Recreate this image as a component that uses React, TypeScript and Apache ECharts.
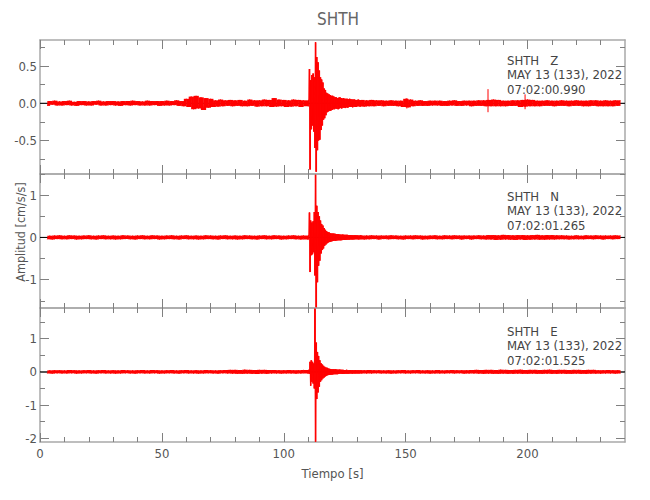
import React, { useEffect, useRef } from "react";
import * as echarts from "echarts";

// ---------------- data ----------------
const stationName = "SHTH";
const dateLabel = "MAY 13 (133), 2022";
const componentNames = ["Z", "N", "E"];
const startTimes = ["07:02:00.990", "07:02:01.265", "07:02:01.525"];

const xMin = 0;
const xMax = 240;
const xMajorTicks = [0, 50, 100, 150, 200];
const xMinorTicks = [10, 20, 30, 40, 60, 70, 80, 90, 110, 120, 130, 140, 160, 170, 180, 190, 210, 220, 230];

const yMins = [-0.95, -1.67, -2.11];
const yMaxs = [0.85, 1.5, 1.92];
const yMajorTicks = [[-0.5, 0, 0.5], [-1, 0, 1], [-2, -1, 0, 1]];
const yMinorTicks = [[-0.75, -0.25, 0.25, 0.75], [-1.5, -0.5, 0.5, 1.5], [-1.5, -0.5, 0.5, 1.5]];

// sampling of the traces (seconds)
const PRE_START = 3;
const EVENT_START = 110;
const POST_START = 133;
const NOISE_STEP = 1;
const EVENT_STEP = 0.25;

// Z component
const zPre = [
  -0.035, 0.03, -0.02, 0.035, -0.03, 0.025, -0.03,
  0.03, -0.025, 0.035, -0.03, 0.02, -0.035, 0.03, -0.025, 0.03, -0.03,
  0.025, -0.03, 0.03, -0.02, 0.035, -0.03, 0.025, -0.03, 0.03, -0.025,
  0.03, -0.03, 0.025, -0.035, 0.03, -0.025, 0.03, -0.03, 0.035, -0.025,
  0.03, -0.03, 0.025, -0.03, 0.035, -0.03, 0.03, -0.025, 0.03, -0.035,
  0.03, -0.03, 0.035, -0.03, 0.03, -0.025, 0.04, -0.035, 0.03, -0.04,
  0.06, -0.05, 0.09, -0.08, 0.1, -0.07, 0.08, -0.09, 0.07, -0.06,
  0.06, -0.05, 0.04, -0.045, 0.05, -0.04, 0.04, -0.035, 0.045, -0.04,
  0.04, -0.035, 0.045, -0.04, 0.035, -0.04, 0.05, -0.035, 0.04, -0.045,
  0.04, -0.04, 0.05, -0.04, 0.045, -0.05, 0.07, -0.045, 0.05, -0.04,
  0.045, -0.05, 0.04, -0.045, 0.05, -0.04, 0.045, -0.05, 0.04,
];
const zEvent = [
  -0.04, 0.05, 0.46, -0.89,
  0.31, -0.35, 0.38, -0.3,
  0.4, -0.38, 0.35, -0.6,
  0.82, -0.92, 0.62, -0.63,
  0.55, -0.5, 0.44, -0.49,
  0.35, -0.36, 0.32, -0.3,
  0.28, -0.22, 0.2, -0.2,
  0.18, -0.16, 0.14, -0.12,
  0.13, -0.11, 0.12, -0.1,
  0.11, -0.1, 0.1, -0.09,
  0.1, -0.08, 0.09, -0.08,
  0.08, -0.07, 0.08, -0.075,
  0.07, -0.08, 0.075, -0.07,
  0.08, -0.065, 0.07, -0.07,
  0.065, -0.06, 0.07, -0.06,
  0.06, -0.065, 0.06, -0.055,
  0.06, -0.06, 0.055, -0.05,
  0.06, -0.05, 0.055, -0.05,
  0.05, -0.055, 0.05, -0.045,
  0.05, -0.05, 0.045, -0.05,
  0.045, -0.04, 0.05, -0.04,
  0.045, -0.045, 0.04, -0.04,
  0.045,
];
const zPost = [
  -0.045, 0.04, -0.04, 0.045, -0.04, 0.04, -0.035, 0.04, -0.04, 0.035,
  -0.035, 0.04, -0.035, 0.035, -0.04, 0.035, -0.05, 0.06, -0.055, 0.05,
  -0.04, 0.035, -0.035, 0.04, -0.035, 0.03, -0.035, 0.035, -0.03, 0.035,
  -0.03, 0.035, -0.035, 0.03, -0.035, 0.035, -0.03, 0.04, -0.035, 0.03,
  -0.035, 0.035, -0.03, 0.035, -0.04, 0.035, -0.035, 0.04, -0.035, 0.04,
  -0.04, 0.045, -0.04, 0.05, -0.04, 0.045, -0.04, 0.035, -0.04, 0.035,
  -0.035, 0.04, -0.035, 0.04, -0.05, 0.045, -0.045, 0.05, -0.04, 0.045,
  -0.04, 0.035, -0.04, 0.035, -0.035, 0.04, -0.035, 0.035, -0.04, 0.035,
  -0.035, 0.04, -0.035, 0.035, -0.04, 0.035, -0.035, 0.04, -0.035, 0.035,
  -0.04, 0.035, -0.04, 0.04, -0.035, 0.04, -0.04, 0.035, -0.04, 0.04,
  -0.04, 0.035, -0.04, 0.04, -0.035, 0.04,
];
// isolated spikes: [time, low, high]
const zSpikes = [[183.8, -0.12, 0.19], [199, -0.08, 0.12], [150.5, -0.07, 0.07]];

// N component
const nPre = [
  -0.045, 0.04, -0.05, 0.045, -0.04, 0.05, -0.045,
  0.04, -0.045, 0.05, -0.04, 0.045, -0.05, 0.04, -0.045, 0.045, -0.04,
  0.05, -0.045, 0.04, -0.05, 0.045, -0.04, 0.05, -0.045, 0.04, -0.045,
  0.045, -0.05, 0.04, -0.045, 0.05, -0.04, 0.045, -0.045, 0.04, -0.05,
  0.045, -0.04, 0.05, -0.045, 0.04, -0.045, 0.05, -0.04, 0.045, -0.05,
  0.04, -0.045, 0.045, -0.04, 0.05, -0.045, 0.04, -0.05, 0.045, -0.04,
  0.05, -0.045, 0.04, -0.045, 0.045, -0.05, 0.04, -0.045, 0.05, -0.04,
  0.045, -0.045, 0.04, -0.05, 0.045, -0.04, 0.05, -0.045, 0.04, -0.045,
  0.045, -0.05, 0.04, -0.045, 0.05, -0.04, 0.045, -0.045, 0.04, -0.05,
  0.045, -0.04, 0.05, -0.045, 0.04, -0.045, 0.05, -0.04, 0.045, -0.05,
  0.04, -0.045, 0.045, -0.04, 0.05, -0.045, 0.04, -0.05, 0.045,
];
const nEvent = [
  -0.05, 0.06, 0.59, -0.82,
  0.4, -0.42, 0.35, -0.4,
  0.38, -0.35, 0.6, -0.9,
  1.48, -1.65, 0.75, -1.06,
  0.6, -0.67, 0.5, -0.55,
  0.4, -0.38, 0.32, -0.3,
  0.28, -0.26, 0.22, -0.2,
  0.18, -0.17, 0.15, -0.14,
  0.13, -0.12, 0.12, -0.11,
  0.1, -0.1, 0.095, -0.09,
  0.09, -0.085, 0.09, -0.08,
  0.085, -0.08, 0.08, -0.075,
  0.08, -0.07, 0.075, -0.07,
  0.07, -0.07, 0.065, -0.065,
  0.07, -0.06, 0.065, -0.06,
  0.06, -0.06, 0.06, -0.055,
  0.06, -0.055, 0.055, -0.055,
  0.055, -0.05, 0.055, -0.05,
  0.05, -0.05, 0.05, -0.05,
  0.05, -0.045, 0.05, -0.045,
  0.05, -0.045, 0.045, -0.05,
  0.045, -0.045, 0.05, -0.045,
  0.045,
];
const nPost = [
  -0.05, 0.045, -0.045, 0.05, -0.04, 0.045, -0.05, 0.045, -0.04, 0.045,
  -0.045, 0.05, -0.04, 0.045, -0.045, 0.04, -0.05, 0.045, -0.04, 0.045,
  -0.045, 0.05, -0.04, 0.045, -0.05, 0.04, -0.045, 0.045, -0.04, 0.05,
  -0.045, 0.04, -0.045, 0.05, -0.04, 0.045, -0.045, 0.05, -0.04, 0.045,
  -0.05, 0.045, -0.04, 0.045, -0.05, 0.045, -0.04, 0.05, -0.045, 0.045,
  -0.05, 0.055, -0.05, 0.055, -0.06, 0.05, -0.055, 0.06, -0.05, 0.055,
  -0.055, 0.05, -0.06, 0.055, -0.05, 0.055, -0.06, 0.05, -0.055, 0.055,
  -0.05, 0.06, -0.055, 0.05, -0.055, 0.055, -0.05, 0.055, -0.05, 0.05,
  -0.045, 0.05, -0.045, 0.045, -0.05, 0.04, -0.045, 0.05, -0.045, 0.04,
  -0.045, 0.05, -0.04, 0.045, -0.045, 0.05, -0.04, 0.045, -0.05, 0.045,
  -0.04, 0.045, -0.045, 0.05, -0.04, 0.045,
];
const nSpikes: number[][] = [];

// E component
const ePre = [
  -0.05, 0.045, -0.055, 0.05, -0.045, 0.05, -0.05,
  0.045, -0.05, 0.055, -0.045, 0.05, -0.055, 0.045, -0.05, 0.05, -0.045,
  0.055, -0.05, 0.045, -0.055, 0.05, -0.045, 0.055, -0.05, 0.045, -0.05,
  0.05, -0.055, 0.045, -0.05, 0.055, -0.045, 0.05, -0.05, 0.045, -0.055,
  0.05, -0.045, 0.055, -0.05, 0.045, -0.05, 0.055, -0.045, 0.05, -0.055,
  0.045, -0.05, 0.05, -0.045, 0.055, -0.05, 0.045, -0.055, 0.05, -0.045,
  0.055, -0.05, 0.045, -0.05, 0.05, -0.055, 0.045, -0.05, 0.055, -0.045,
  0.05, -0.05, 0.045, -0.055, 0.05, -0.045, 0.055, -0.05, 0.06, -0.055,
  0.06, -0.06, 0.055, -0.06, 0.065, -0.055, 0.06, -0.06, 0.055, -0.065,
  0.06, -0.055, 0.06, -0.06, 0.055, -0.05, 0.055, -0.05, 0.05, -0.055,
  0.05, -0.05, 0.055, -0.05, 0.05, -0.055, 0.05, -0.05, 0.055,
];
const eEvent = [
  -0.05, 0.06, -0.06, 0.3,
  -0.42, 0.35, -0.3, 0.3,
  -0.35, 0.25, -0.5, 1.9,
  -2.1, 0.88, -0.82, 0.6,
  -0.62, 0.48, -0.45, 0.35,
  -0.3, 0.26, -0.25, 0.22,
  -0.2, 0.18, -0.17, 0.15,
  -0.14, 0.13, -0.12, 0.12,
  -0.1, 0.1, -0.095, 0.09,
  -0.09, 0.085, -0.085, 0.08,
  -0.08, 0.08, -0.075, 0.075,
  -0.07, 0.075, -0.07, 0.07,
  -0.07, 0.065, -0.065, 0.07,
  -0.06, 0.065, -0.06, 0.06,
  -0.065, 0.06, -0.06, 0.055,
  -0.06, 0.055, -0.055, 0.06,
  -0.055, 0.05, -0.055, 0.055,
  -0.05, 0.055, -0.05, 0.05,
  -0.055, 0.05, -0.05, 0.05,
  -0.05, 0.055, -0.05, 0.05,
  -0.05, 0.045, -0.05, 0.05,
  -0.05, 0.05, -0.045, 0.05,
  -0.05,
];
const ePost = [
  0.05, -0.05, 0.055, -0.05, 0.05, -0.045, 0.05, -0.05, 0.045, -0.05,
  0.05, -0.055, 0.045, -0.05, 0.05, -0.045, 0.055, -0.05, 0.045, -0.05,
  0.05, -0.045, 0.055, -0.05, 0.045, -0.05, 0.05, -0.055, 0.045, -0.05,
  0.055, -0.05, 0.045, -0.05, 0.05, -0.045, 0.055, -0.05, 0.05, -0.045,
  0.05, -0.055, 0.05, -0.05, 0.055, -0.05, 0.06, -0.055, 0.055, -0.06,
  0.06, -0.055, 0.06, -0.06, 0.055, -0.06, 0.065, -0.055, 0.06, -0.06,
  0.055, -0.06, 0.06, -0.055, 0.065, -0.06, 0.055, -0.06, 0.06, -0.055,
  0.06, -0.06, 0.055, -0.06, 0.06, -0.055, 0.065, -0.06, 0.055, -0.06,
  0.06, -0.055, 0.06, -0.06, 0.055, -0.06, 0.06, -0.055, 0.06, -0.06,
  0.055, -0.06, 0.06, -0.055, 0.06, -0.055, 0.05, -0.055, 0.05, -0.05,
  0.055, -0.05, 0.05, -0.055, 0.05, -0.05,
];
const eSpikes: number[][] = [];

// ---------------- styling ----------------
const FONT = "'DejaVu Sans Condensed', 'Liberation Sans Narrow', 'DejaVu Sans', sans-serif";
const TEXT_COLOR = "#555555";
const AXIS_GRAY = "#a9a9a9";
const TICK_GRAY = "#808080";
const TRACE_RED = "#ff0000";
const GRID_LEFT = 40;
const GRID_RIGHT = 25;
const GRID_TOPS = [40, 174, 308];
const GRID_HEIGHT = 134;
const ANNOT_X = 507;
const ANNOT_Y = [60, 196, 331];
const ANNOT_LINE = 14.5;

function buildTrace(pre: number[], ev: number[], post: number[]) {
  const d: number[][] = [];
  pre.forEach((v, i) => d.push([PRE_START + i * NOISE_STEP, v]));
  ev.forEach((v, i) => d.push([EVENT_START + i * EVENT_STEP, v]));
  post.forEach((v, i) => d.push([POST_START + i * NOISE_STEP, v]));
  return d;
}

// each column spans the range covered by the trace between two consecutive samples
function buildColumns(trace: number[][]) {
  const cols: number[][] = [];
  for (let i = 0; i < trace.length - 1; i++) {
    const [t0, v0] = trace[i];
    const [t1, v1] = trace[i + 1];
    cols.push([t0, t1, Math.min(v0, v1), Math.max(v0, v1)]);
  }
  return cols;
}

const traces = [
  buildTrace(zPre, zEvent, zPost),
  buildTrace(nPre, nEvent, nPost),
  buildTrace(ePre, eEvent, ePost),
];
const spikes = [zSpikes, nSpikes, eSpikes];

function renderColumn(params: any, api: any) {
  const a = api.coord([api.value(0), api.value(3)]);
  const b = api.coord([api.value(1), api.value(2)]);
  return {
    type: "rect",
    shape: {
      x: a[0],
      y: a[1],
      width: Math.max(b[0] - a[0], 0.5) + 0.4,
      height: Math.max(b[1] - a[1], 0.6),
    },
    style: { fill: TRACE_RED },
  };
}

function renderSpike(params: any, api: any) {
  const a = api.coord([api.value(0), api.value(2)]);
  const b = api.coord([api.value(0), api.value(1)]);
  return {
    type: "line",
    shape: { x1: a[0], y1: a[1], x2: b[0], y2: b[1] },
    style: { stroke: TRACE_RED, lineWidth: 1 },
  };
}

function buildOption() {
  const grid: any[] = [];
  const xAxis: any[] = [];
  const yAxis: any[] = [];
  const series: any[] = [];
  const graphic: any[] = [];

  for (let g = 0; g < 3; g++) {
    grid.push({ left: GRID_LEFT, right: GRID_RIGHT, top: GRID_TOPS[g], height: GRID_HEIGHT, containLabel: false });
    const isBottom = g === 2;
    const xBase = {
      gridIndex: g,
      type: "value",
      min: xMin,
      max: xMax,
      splitLine: { show: false },
      axisPointer: { show: false },
    };
    xAxis.push({
      ...xBase,
      position: "bottom",
      axisLine: { show: true, onZero: false, lineStyle: { color: AXIS_GRAY, width: 1.5 } },
      axisTick: { show: true, inside: true, length: 9, customValues: xMajorTicks, lineStyle: { color: TICK_GRAY, width: 1 } },
      axisLabel: {
        show: isBottom,
        customValues: xMajorTicks,
        color: TEXT_COLOR,
        fontSize: 13,
        fontFamily: FONT,
        margin: 5,
      },
      name: isBottom ? "Tiempo [s]" : "",
      nameLocation: "middle",
      nameGap: 25,
      nameTextStyle: { color: TEXT_COLOR, fontSize: 13, fontFamily: FONT },
    });
    xAxis.push({
      ...xBase,
      position: "bottom",
      axisLine: { show: false, onZero: false },
      axisTick: { show: true, inside: true, length: 5, customValues: xMinorTicks, lineStyle: { color: TICK_GRAY, width: 1 } },
      axisLabel: { show: false },
    });
    xAxis.push({
      ...xBase,
      position: "top",
      axisLine: { show: true, onZero: false, lineStyle: { color: AXIS_GRAY, width: 1.5 } },
      axisTick: { show: true, inside: true, length: 9, customValues: xMajorTicks, lineStyle: { color: TICK_GRAY, width: 1 } },
      axisLabel: { show: false },
    });
    xAxis.push({
      ...xBase,
      position: "top",
      axisLine: { show: false, onZero: false },
      axisTick: { show: true, inside: true, length: 5, customValues: xMinorTicks, lineStyle: { color: TICK_GRAY, width: 1 } },
      axisLabel: { show: false },
    });

    const yBase = {
      gridIndex: g,
      type: "value",
      min: yMins[g],
      max: yMaxs[g],
      splitLine: { show: false },
      axisPointer: { show: false },
    };
    const fmt = g === 0 ? (v: number) => v.toFixed(1) : (v: number) => String(Math.round(v));
    yAxis.push({
      ...yBase,
      position: "left",
      axisLine: { show: true, onZero: false, lineStyle: { color: AXIS_GRAY, width: 1.5 } },
      axisTick: { show: true, inside: true, length: 9, customValues: yMajorTicks[g], lineStyle: { color: TICK_GRAY, width: 1 } },
      axisLabel: {
        show: true,
        customValues: yMajorTicks[g],
        formatter: fmt,
        color: TEXT_COLOR,
        fontSize: 13,
        fontFamily: FONT,
        margin: 3,
      },
    });
    yAxis.push({
      ...yBase,
      position: "left",
      axisLine: { show: false, onZero: false },
      axisTick: { show: true, inside: true, length: 5, customValues: yMinorTicks[g], lineStyle: { color: TICK_GRAY, width: 1 } },
      axisLabel: { show: false },
    });
    yAxis.push({
      ...yBase,
      position: "right",
      axisLine: { show: true, onZero: false, lineStyle: { color: AXIS_GRAY, width: 1.5 } },
      axisTick: { show: true, inside: true, length: 9, customValues: yMajorTicks[g], lineStyle: { color: TICK_GRAY, width: 1 } },
      axisLabel: { show: false },
    });
    yAxis.push({
      ...yBase,
      position: "right",
      axisLine: { show: false, onZero: false },
      axisTick: { show: true, inside: true, length: 5, customValues: yMinorTicks[g], lineStyle: { color: TICK_GRAY, width: 1 } },
      axisLabel: { show: false },
    });

    // zero reference line under the trace
    series.push({
      type: "line",
      xAxisIndex: g * 4,
      yAxisIndex: g * 4,
      data: [[xMin, 0], [xMax, 0]],
      symbol: "none",
      lineStyle: { color: "#000000", width: 1 },
      silent: true,
      z: 1,
    });
    // filled extent of the trace
    series.push({
      type: "custom",
      xAxisIndex: g * 4,
      yAxisIndex: g * 4,
      data: buildColumns(traces[g]),
      dimensions: ["t0", "t1", "lo", "hi"],
      encode: { x: [0, 1], y: [2, 3] },
      renderItem: renderColumn,
      silent: true,
      clip: true,
      z: 2,
    });
    // isolated spikes
    series.push({
      type: "custom",
      xAxisIndex: g * 4,
      yAxisIndex: g * 4,
      data: spikes[g],
      dimensions: ["t", "lo", "hi"],
      encode: { x: 0, y: [1, 2] },
      renderItem: renderSpike,
      silent: true,
      clip: true,
      z: 2,
    });
    // trace line
    series.push({
      type: "line",
      name: `${stationName} ${componentNames[g]}`,
      xAxisIndex: g * 4,
      yAxisIndex: g * 4,
      data: traces[g],
      symbol: "none",
      showSymbol: false,
      lineStyle: { color: TRACE_RED, width: 0.8 },
      silent: true,
      clip: true,
      z: 3,
    });

    const lines = [`${stationName}   ${componentNames[g]}`, dateLabel, startTimes[g]];
    lines.forEach((t, i) => {
      graphic.push({
        type: "text",
        x: ANNOT_X,
        y: ANNOT_Y[g] + i * ANNOT_LINE,
        silent: true,
        style: {
          text: t,
          fill: "#444444",
          fontSize: 13,
          fontFamily: FONT,
          align: "left",
          verticalAlign: "middle",
        },
      });
    });
  }

  graphic.push({
    type: "text",
    x: 338,
    y: 19,
    silent: true,
    style: {
      text: stationName,
      fill: "#666666",
      fontSize: 17,
      fontFamily: FONT,
      align: "center",
      verticalAlign: "middle",
    },
  });
  graphic.push({
    type: "text",
    x: 20,
    y: 232,
    rotation: Math.PI / 2,
    silent: true,
    style: {
      text: "Amplitud [cm/s/s]",
      fill: TEXT_COLOR,
      fontSize: 12.5,
      fontFamily: FONT,
      align: "center",
      verticalAlign: "middle",
    },
  });

  return {
    animation: false,
    backgroundColor: "#ffffff",
    grid,
    xAxis,
    yAxis,
    series,
    graphic,
  };
}

export default function App() {
  const ref = useRef<HTMLDivElement | null>(null);
  useEffect(() => {
    if (!ref.current) return;
    const chart = echarts.init(ref.current, null, { renderer: "svg" });
    chart.setOption(buildOption() as any);
    return () => {
      chart.dispose();
    };
  }, []);
  return (
    <div
      ref={ref}
      style={{ position: "fixed", left: 0, top: 0, width: 650, height: 500, background: "#fff" }}
    />
  );
}
